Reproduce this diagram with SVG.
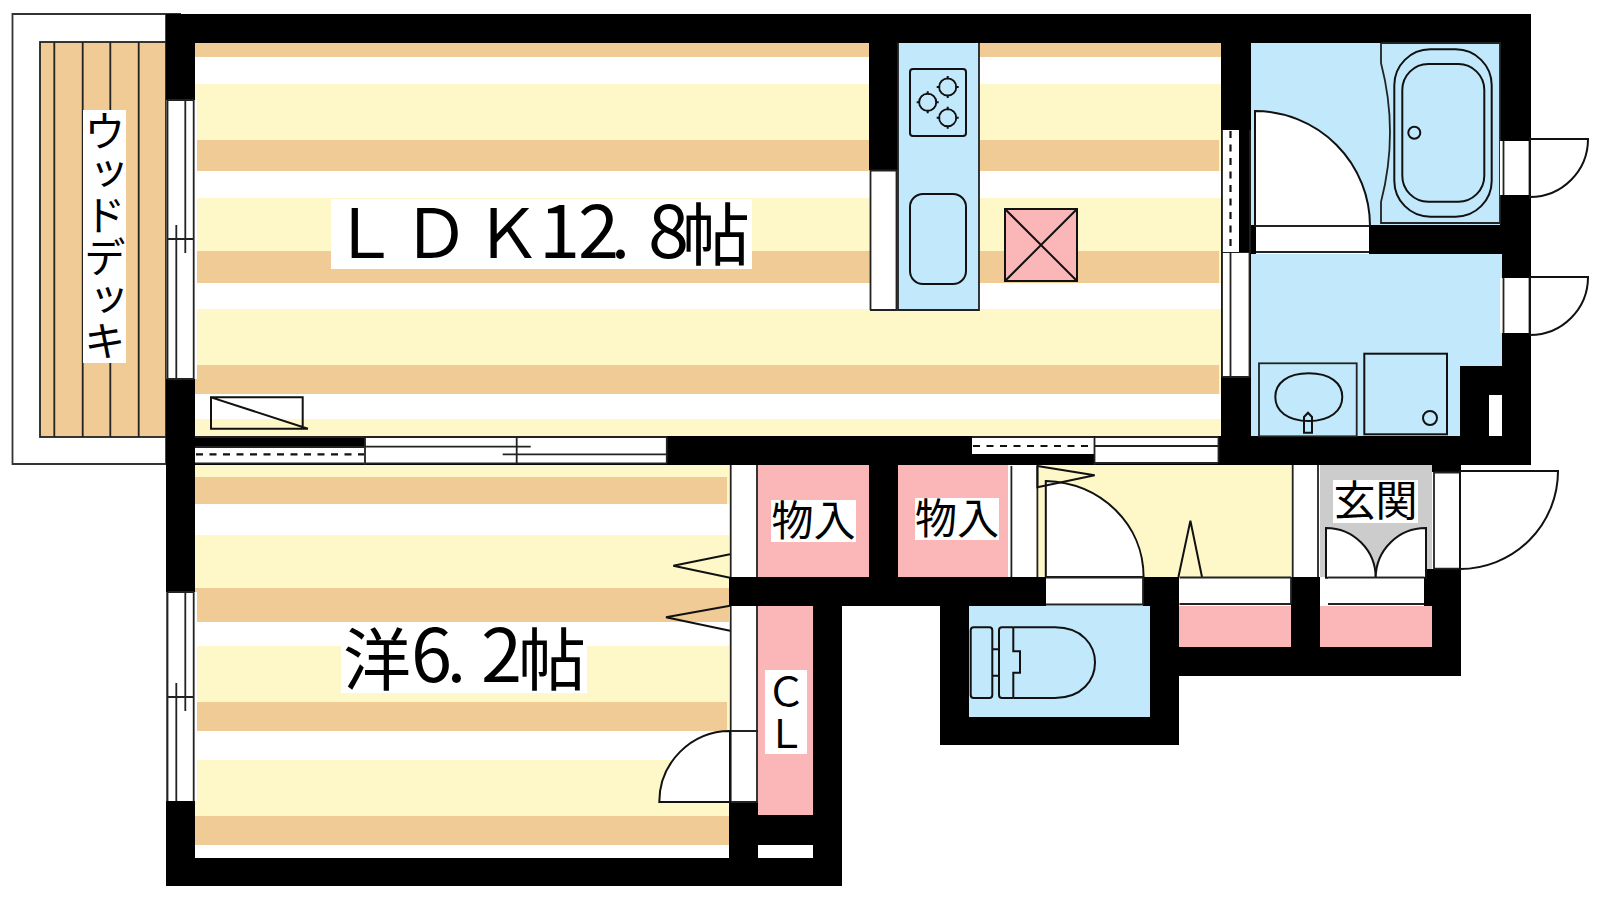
<svg xmlns="http://www.w3.org/2000/svg" width="1600" height="900" viewBox="0 0 1600 900">
<style>
.o{fill:#f0cb95}.y{fill:#fef8c8}.b{fill:#c2e9fb}.p{fill:#fbb6b8}.g{fill:#ccc}.w{fill:#fff}.k{fill:#000}
.ln{fill:none;stroke:#222;stroke-width:1.8}
.t{fill:none;stroke:#111;stroke-width:2}
.dr{fill:#fff;stroke:#111;stroke-width:2}
.ds{fill:none;stroke:#111;stroke-width:2.2;stroke-dasharray:7 6.5}
.lb{font-family:"Noto Sans CJK JP","Noto Sans CJK SC",sans-serif;fill:#000}
.nr{font-family:"Liberation Sans Narrow","Noto Sans CJK JP",sans-serif;font-size:74px}
</style>
<rect class="w" width="1600" height="900"/>
<g id="deck">
<path class="w" d="M181 14H12.5V464H166V14" stroke="#333" stroke-width="1.8"/>
<rect class="o" x="40" y="42" width="126" height="395" stroke="#222" stroke-width="1.8"/>
<path class="ln" d="M54.3 42V437M82.7 42V437M110.3 42V437M138.7 42V437"/>
</g>
<g id="ldk-floor">
<rect class="y" x="195" y="43" width="1026" height="393"/>
<rect class="o" x="195" y="43" width="1026" height="14"/>
<rect class="w" x="195" y="57" width="1026" height="27"/>
<rect class="o" x="195" y="140" width="1024" height="31"/>
<rect class="w" x="195" y="171" width="1026" height="27"/>
<rect class="o" x="195" y="251" width="1024" height="32"/>
<rect class="w" x="195" y="283" width="1026" height="26"/>
<rect class="o" x="195" y="365" width="1024" height="29"/>
<rect class="w" x="195" y="394" width="1026" height="25"/>
</g>
<g id="western-floor">
<rect class="y" x="195" y="465" width="534" height="393"/>
<rect class="o" x="195" y="477" width="532" height="27"/>
<rect class="w" x="195" y="504" width="534" height="31"/>
<rect class="o" x="195" y="588" width="534" height="34"/>
<rect class="w" x="195" y="622" width="534" height="24"/>
<rect class="o" x="195" y="702" width="532" height="29"/>
<rect class="w" x="195" y="731" width="534" height="29"/>
<rect class="o" x="195" y="816" width="534" height="29"/>
<rect class="w" x="195" y="845" width="534" height="13"/>
</g>
<g id="room-fills">
<rect class="b" x="1250" y="43" width="252" height="182"/>
<path class="b" d="M1250 254H1502V366H1460V436H1250Z"/>
<rect class="b" x="969" y="606" width="181" height="111"/>
<rect class="p" x="758" y="465" width="111" height="112"/>
<rect class="p" x="898" y="465" width="110" height="112"/>
<rect class="p" x="758" y="606" width="55" height="209"/>
<rect class="w" x="758" y="845" width="55" height="13"/>
<rect class="y" x="1038" y="465" width="254" height="112"/>
<rect class="g" x="1320" y="465" width="112" height="112"/>
<rect class="p" x="1179" y="606" width="112" height="41"/>
<rect class="p" x="1320" y="606" width="112" height="41"/>
</g>
<g id="walls" class="k">
<rect x="166" y="14" width="1365" height="29"/>
<rect x="166" y="14" width="29" height="872"/>
<rect x="166" y="858" width="676" height="28"/>
<rect x="813" y="606" width="29" height="280"/>
<rect x="729" y="815" width="113" height="30"/>
<rect x="729" y="802" width="29" height="56"/>
<rect x="729" y="577" width="317" height="29"/>
<rect x="869" y="43" width="29" height="127"/>
<rect x="195" y="436" width="1336" height="29"/>
<rect x="869" y="465" width="29" height="112"/>
<rect x="1221" y="43" width="30" height="393"/>
<rect x="1500" y="14" width="31" height="240"/>
<rect x="1502" y="254" width="29" height="211"/>
<rect x="1369" y="225" width="133" height="29"/>
<rect x="1251" y="225" width="5" height="29"/>
<rect x="1460" y="366" width="71" height="99"/>
<rect class="w" x="1489" y="395" width="13" height="41"/>
<rect x="940" y="577" width="29" height="168"/>
<rect x="940" y="717" width="239" height="28"/>
<rect x="1143" y="577" width="36" height="29"/>
<rect x="1150" y="606" width="29" height="139"/>
<rect x="1179" y="647" width="282" height="29"/>
<rect x="1291" y="577" width="29" height="99"/>
<rect x="1424" y="569" width="37" height="37"/>
<rect x="1432" y="606" width="29" height="70"/>
<rect x="1432" y="465" width="29" height="7"/>
</g>
<g id="windows-west">
<rect class="w" x="166.5" y="100" width="30.5" height="279"/>
<path class="ln" d="M167.5 100H194M167.5 100V379M193.7 100V379M185.3 100V253M176.3 225V379M167.5 239H194M167.5 379H194"/>
<rect class="w" x="166.5" y="592" width="30.5" height="209"/>
<path class="ln" d="M167.5 592H194M167.5 592V801M193.7 592V801M185.3 592V711M176.3 683V801M167.5 697H194"/>
</g>
<g id="windows-south">
<rect class="w" x="195" y="447" width="170" height="17"/>
<path class="ds" d="M196 454.3H364"/>
<path class="ln" d="M195 437H364M195 463.3H364M195 447H364"/>
<rect class="w" x="365" y="437" width="302" height="27"/>
<path class="ln" d="M365 437H667M365 463.3H667M365 446.7H530.7M502.7 454.3H667M666.8 437V463.3"/>
<path class="ln" d="M365 436V465M516.7 437V463.3" stroke-width="2.5"/>
<rect class="w" x="972" y="437" width="122" height="17"/>
<path class="ds" d="M973 446H1093"/>
<path class="ln" d="M972 437H1094"/>
<rect class="w" x="1095" y="437" width="123" height="26"/>
<path class="ln" d="M1094.5 437V465M1095 437H1218M1095 446H1218M1095 463H1218M1218.5 437V463"/>
</g>
<g id="windows-east">
<rect class="w" x="1222" y="130" width="17" height="123"/>
<path class="ln" d="M1222 130V253M1250 130V253M1222 253H1250"/>
<path class="ds" d="M1230.5 131V253"/>
<rect class="w" x="1222" y="253" width="28" height="124"/>
<path class="ln" d="M1222 253V377M1230.5 253V377M1249.5 253V377M1222 377H1250"/>
</g>
<g id="kitchen">
<rect class="w" x="870" y="170" width="27" height="140"/>
<path class="ln" d="M870.5 310V170.5H897M896.5 170V310M870 310H897"/>
<rect class="b" x="898" y="43" width="81" height="267"/>
<path class="ln" d="M898 43V310H979V43"/>
<rect class="t" x="910" y="69" width="56" height="67" rx="3"/>
<g class="t">
<circle cx="947.7" cy="87" r="8.5"/><path d="M947.7 76V98M936.7 87H958.7"/>
<circle cx="927.7" cy="102.3" r="8.5"/><path d="M927.7 91.3V113.3M916.7 102.3H938.7"/>
<circle cx="947.7" cy="117.7" r="8.5"/><path d="M947.7 106.7V128.7M936.7 117.7H958.7"/>
</g>
<rect class="t" x="910" y="194" width="56" height="90" rx="13"/>
</g>
<g id="burner-fill"><circle class="b" cx="947.7" cy="87" r="7.5"/><circle class="b" cx="927.7" cy="102.3" r="7.5"/><circle class="b" cx="947.7" cy="117.7" r="7.5"/></g>
<g id="hood">
<rect x="1005" y="209" width="72" height="72" class="p" stroke="#111" stroke-width="2"/>
<path class="t" d="M1005 209L1077 281M1077 209L1005 281"/>
</g>
<g id="ac-unit">
<path class="t" d="M211 397.3H302.7V428.7M308 428.7H211V397.3L308 428.7"/>
</g>
<g id="bath">
<path class="ln" d="M1381 43V63C1388 90 1390 110 1390 132C1390 155 1388 175 1381 202V223H1500V43H1381"/>
<rect class="t" x="1394.3" y="49.3" width="97.4" height="167.4" rx="36"/>
<rect class="t" x="1402.3" y="64" width="82" height="137.7" rx="26"/>
<circle class="t" cx="1414.3" cy="132.7" r="6"/>
<path class="dr" d="M1255 226V111A115 115 0 0 1 1370 226Z"/>
<rect class="w" x="1256" y="226" width="113" height="26"/>
<path class="ln" d="M1256 226H1369M1256 252H1369"/>
<rect class="w" x="1500" y="141" width="30" height="54"/>
<path class="ln" d="M1503.5 141V195M1529.5 141V195"/>
<path class="dr" d="M1530 139H1588A58 58 0 0 1 1530 197Z"/>
</g>
<g id="washroom">
<rect class="ln" x="1259" y="363.3" width="97.7" height="73"/>
<path class="t" d="M1308.8 373.3C1330 373.3 1342.3 383 1342.3 397C1342.3 411 1330 421 1308.8 421C1287.5 421 1275.3 411 1275.3 397C1275.3 383 1287.5 373.3 1308.8 373.3Z"/>
<path class="t" d="M1304 432.7V417L1308 412.7L1312 417V432.7Z" fill="#c2e9fb"/>
<rect class="t" x="1364.3" y="353.7" width="82.7" height="80.6"/>
<circle class="t" cx="1430" cy="418" r="7"/>
<rect class="w" x="1500" y="278" width="30" height="55"/>
<path class="ln" d="M1503.5 278V333M1529.5 278V333"/>
<path class="dr" d="M1530 277H1588A58 58 0 0 1 1530 335Z"/>
</g>
<g id="closets">
<rect class="w" x="730" y="465" width="27.5" height="112"/>
<path class="ln" d="M730.7 465V577M757 465V577"/>
<path class="t" d="M730 554.3L673.3 565.7L730 577.7" fill="#fff"/>
<rect class="w" x="730" y="606" width="27.5" height="196"/>
<path class="ln" d="M730.7 606V802M757 606V802M730 731H758M730 802H758"/>
<path class="t" d="M730 605.7L666 617.3L730 630.7" fill="#fff"/>
<path class="dr" d="M730 731V802H659.3A71 71 0 0 1 730 731Z"/>
</g>
<g id="hall">
<rect class="w" x="1008" y="465" width="30" height="112"/>
<path class="ln" d="M1011.4 466V577M1037.4 466V577"/>
<path class="dr" d="M1045.8 484V577H1143.6C1143.6 525 1102 483 1045.8 481Z"/>
<path class="t" d="M1037.4 466L1094.7 475.3L1037.4 487.3Z" fill="#fff"/>
<rect class="w" x="1046" y="577" width="97" height="28"/>
<path class="ln" d="M1046 577.5H1143M1046 604.5H1143M1143 577V605"/>
<path class="t" d="M1178.4 577L1190.4 520.7L1202 577" fill="#fff"/>
<rect class="w" x="1179.5" y="577" width="111.5" height="27"/>
<path class="ln" d="M1179.5 577.5H1291M1179.5 604H1291M1291 577V604"/>
<rect class="w" x="1292.7" y="465" width="25.5" height="112"/>
<path class="ln" d="M1292.7 465V577M1318 465V577"/>
</g>
<g id="entry">
<path class="dr" d="M1326 577.7V528A49.7 49.7 0 0 1 1375.7 577.7Z"/>
<path class="dr" d="M1426 577.7V528A50 50 0 0 0 1375.7 577.7Z"/>
<path class="ln" d="M1375.7 577V581"/>
<rect class="w" x="1328" y="578" width="96" height="26"/>
<path class="ln" d="M1328 577.7H1424M1328 604H1424"/>
<rect class="w" x="1434" y="472" width="26" height="97"/>
<path class="ln" d="M1434 472.5H1460M1434 472V569M1434 568.7H1460M1460 472V569"/>
<path class="dr" d="M1460 471H1558A98 98 0 0 1 1460 569Z"/>
</g>
<g id="toilet">
<rect class="t" x="970.7" y="627.3" width="21.6" height="70.7" rx="3"/>
<path class="t" d="M992.3 649.3H999M992.3 675.7H999"/>
<path class="t" d="M1013.3 627.3H1002Q999 627.3 999 630.3V695Q999 698 1002 698H1013.3"/>
<path class="t" d="M1013.3 627.3V651.3H1020V672.7H1013.3V698M1013.3 627.3H1055C1082 627.3 1095 645 1095 662.5C1095 680 1082 698 1055 698H1013.3"/>
</g>
<g id="labels">
<rect class="w" x="331" y="199" width="421" height="70"/>
<text class="lb" font-size="68" y="258"><tspan x="331 402 474">ＬＤＫ</tspan><tspan class="nr" x="539 578">12</tspan><tspan x="611">.</tspan><tspan class="nr" x="648">8</tspan><tspan x="682" y="260">帖</tspan></text>
<rect class="w" x="341" y="623" width="246" height="70"/>
<text class="lb" font-size="68" y="685"><tspan x="343">洋</tspan><tspan class="nr" x="411" y="682">6</tspan><tspan x="447" y="682">.</tspan><tspan class="nr" x="481" y="682">2</tspan><tspan x="518" y="685">帖</tspan></text>
<rect class="w" x="83" y="110" width="43" height="253"/>
<text class="lb" font-size="42" x="104.7" y="110" style="writing-mode:vertical-rl">ウッドデッキ</text>
<rect class="w" x="771" y="500" width="85" height="42"/>
<text class="lb" font-size="42" x="813.5" y="536" text-anchor="middle">物入</text>
<rect class="w" x="915" y="498" width="84" height="42"/>
<text class="lb" font-size="42" x="957" y="534" text-anchor="middle">物入</text>
<rect class="w" x="1333" y="480" width="85" height="43"/>
<text class="lb" font-size="42" x="1375.5" y="516" text-anchor="middle">玄関</text>
<rect class="w" x="765" y="670" width="42" height="84"/>
<text class="lb" font-size="40" x="786" y="671" letter-spacing="2" style="writing-mode:vertical-rl">ＣＬ</text>
</g>
</svg>
